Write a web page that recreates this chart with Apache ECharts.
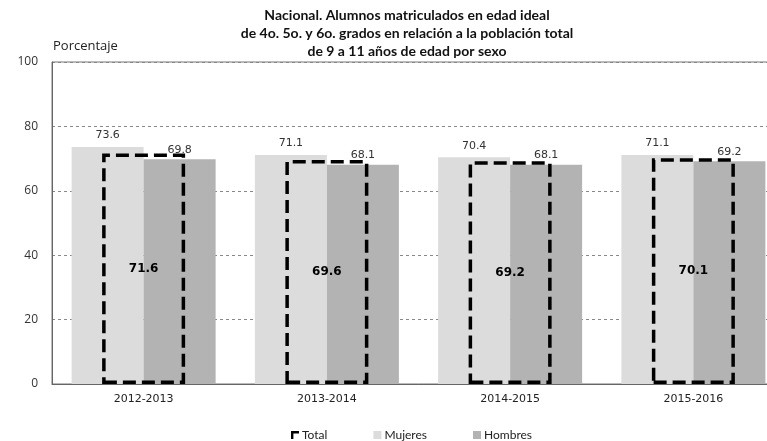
<!DOCTYPE html>
<html><head><meta charset="utf-8">
<script src="https://cdn.jsdelivr.net/npm/echarts@6/dist/echarts.min.js"></script>
<style>html,body{margin:0;padding:0;background:#fff;overflow:hidden;width:767px;height:441px}#c{width:800px;height:441px}</style>
</head><body><div id="c"></div>
<script>
const categories = ['2012-2013', '2013-2014', '2014-2015', '2015-2016'];
const mujeres = [73.6, 71.1, 70.4, 71.1];
const hombres = [69.8, 68.1, 68.1, 69.2];
const total = [71.6, 69.6, 69.2, 70.1];
const yTicks = {min: 0, max: 100, interval: 20};

const chart = echarts.init(document.getElementById('c'));
chart.setOption({
  animation: false,
  title: {
    text: 'Nacional. Alumnos matriculados en edad ideal\nde 4o. 5o. y 6o. grados en relación a la población total\nde 9 a 11 años de edad por sexo',
    left: 402, top: 1, textAlign: 'center',
    textStyle: {fontFamily: 'Lato', fontWeight: 'bold', fontSize: 14, lineHeight: 18, color: '#111'}
  },
  graphic: [{type: 'text', left: 53, top: 40, style: {text: 'Porcentaje', font: '13px "Open Sans"', fill: '#222'}}],
  legend: {
    top: 424, left: 286, itemGap: 46, itemWidth: 8, itemHeight: 8,
    textStyle: {fontFamily: 'Lato', fontSize: 12, color: '#222', padding: [0,0,0,-2]},
    data: [
      {name: 'Total', icon: 'path://M0,0 H10 V3 H3 V10 H0 Z', itemStyle: {color: '#000', borderWidth: 0}},
      {name: 'Mujeres', icon: 'rect'},
      {name: 'Hombres', icon: 'rect'}
    ]
  },
  grid: {left: 52, top: 62, width: 733, bottom: 57, show: true, borderColor: '#777', borderWidth: 1},
  xAxis: [{
    type: 'category', data: categories,
    axisLine: {lineStyle: {color: '#666'}}, axisTick: {show: false},
    axisLabel: {fontFamily: 'DejaVu Sans', fontSize: 11, color: '#222', margin: 10}
  }, {
    type: 'category', data: categories, show: false
  }],
  yAxis: {
    type: 'value', min: yTicks.min, max: yTicks.max, interval: yTicks.interval,
    axisLine: {show: true, lineStyle: {color: '#666'}}, axisTick: {show: false},
    axisLabel: {fontFamily: 'Open Sans', fontSize: 12, color: '#333', margin: 14},
    splitLine: {lineStyle: {color: '#888', type: [3, 3]}}
  },
  series: [
    {name: 'Mujeres', type: 'bar', data: mujeres, barWidth: 72, barGap: '0%',
      itemStyle: {color: '#dcdcdc'},
      label: {show: true, position: 'top', distance: 6, fontFamily: 'DejaVu Sans', fontSize: 11, color: '#333', formatter: p => p.value.toFixed(1)}},
    {name: 'Hombres', type: 'bar', data: hombres, barWidth: 72, barGap: '0%',
      itemStyle: {color: '#b3b3b3'},
      label: {show: true, position: 'top', distance: 4, fontFamily: 'DejaVu Sans', fontSize: 11, color: '#333', formatter: p => p.value.toFixed(1)}},
    {name: 'Total', type: 'bar', xAxisIndex: 1, data: total, barWidth: 83, z: 5,
      itemStyle: {color: 'rgba(0,0,0,0)', borderColor: '#000', borderWidth: 3.5, borderType: [13, 6]},
      label: {show: true, position: 'inside', fontFamily: 'DejaVu Sans', fontWeight: 'bold', fontSize: 12, color: '#000', formatter: p => p.value.toFixed(1)}}
  ]
});
</script></body></html>
